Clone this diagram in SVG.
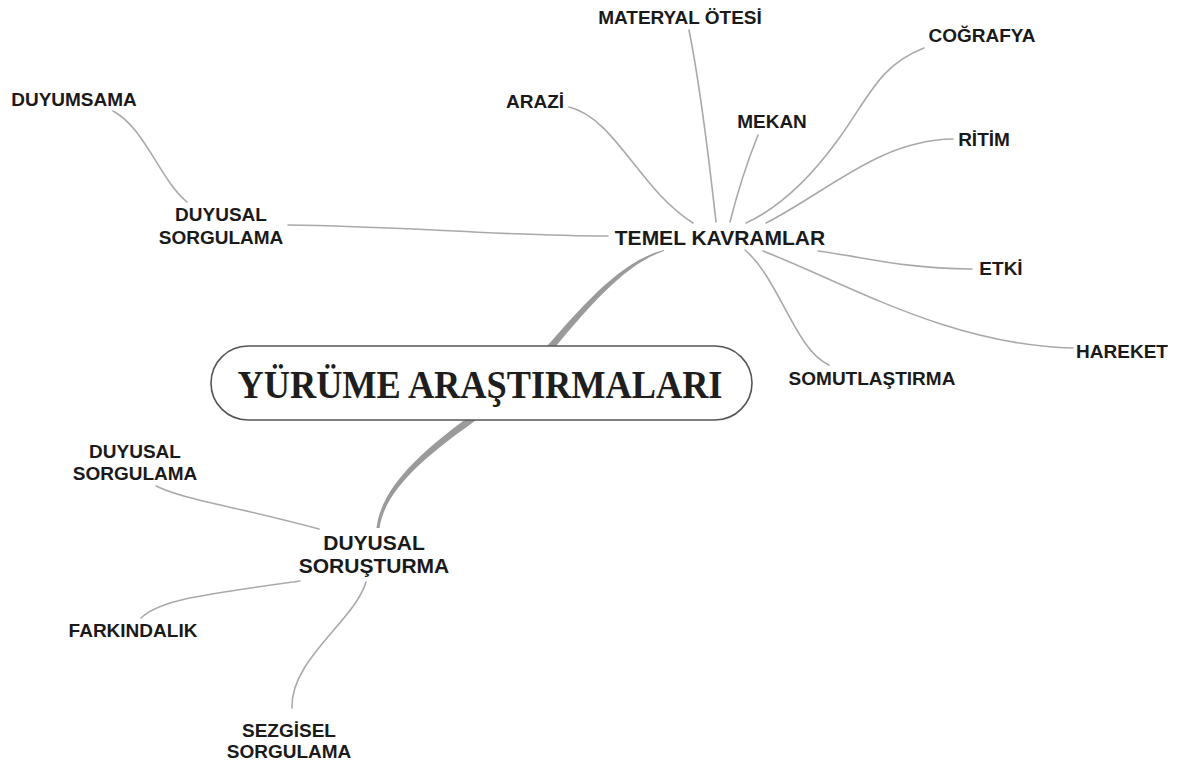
<svg xmlns="http://www.w3.org/2000/svg" width="1180" height="765" viewBox="0 0 1180 765">
<style>
.lbl{font-family:"Liberation Sans",Arial,sans-serif;font-weight:bold;font-size:19px;fill:#1a1a1a;text-anchor:middle}
.hub{font-size:21px}
.ln{fill:none;stroke:#a9a9a9;stroke-width:1.6;stroke-linecap:round}
.main{fill:#9a9a9a}
.title{font-family:"Liberation Serif","Times New Roman",serif;font-weight:bold;font-size:41px;fill:#1e1e1e;text-anchor:middle}
</style>
<rect width="1180" height="765" fill="#ffffff"/>
<g id="connectors">
<path class="main" d="M664,250 C624,260 588,298 537,358 L543,362 C592,302 626,264 664,251 Z"/>
<path class="main" d="M478,410 C418,453 381,489 376.5,528 L379.5,528 C385,491 422,458 482,416 Z"/>
<path class="ln" d="M288,225 C400,226 500,236 608,236"/>
<path class="ln" d="M113,111 C145,128 160,180 187,202"/>
<path class="ln" d="M569,107 C615,118 640,190 693,223"/>
<path class="ln" d="M689,30 C697,70 708,150 716,222"/>
<path class="ln" d="M758,135 C748,160 738,190 730,222"/>
<path class="ln" d="M924,48 C880,65 870,95 840,137 C815,172 785,205 746,223"/>
<path class="ln" d="M953,139 C880,140 830,190 766,223"/>
<path class="ln" d="M818,251 C870,258 900,268 972,269"/>
<path class="ln" d="M763,251 C850,285 950,345 1073,348"/>
<path class="ln" d="M745,250 C780,280 795,350 829,365"/>
<path class="ln" d="M156,486 C185,500 230,505 319,529"/>
<path class="ln" d="M141,618 C160,600 200,595 300,581"/>
<path class="ln" d="M292,708 C290,660 355,620 366,582"/>
</g>
<g id="root">
<rect x="211" y="346" width="541" height="74" rx="37" ry="37" fill="#ffffff" stroke="#555" stroke-width="1.6"/>
<text class="title" x="480" y="398" textLength="485" lengthAdjust="spacingAndGlyphs">YÜRÜME ARAŞTIRMALARI</text>
</g>
<g id="temel"><text class="lbl hub" x="720" y="245">TEMEL KAVRAMLAR</text></g>
<g id="sorusturma"><text class="lbl hub" x="374" y="550">DUYUSAL</text><text class="lbl hub" x="374" y="573">SORUŞTURMA</text></g>
<g id="duyusal-sorgulama-1"><text class="lbl" x="221" y="221">DUYUSAL</text><text class="lbl" x="221" y="244">SORGULAMA</text></g>
<g id="duyumsama"><text class="lbl" x="74" y="106">DUYUMSAMA</text></g>
<g id="arazi"><text class="lbl" x="535" y="108">ARAZİ</text></g>
<g id="materyal"><text class="lbl" x="680" y="24">MATERYAL ÖTESİ</text></g>
<g id="mekan"><text class="lbl" x="772" y="128">MEKAN</text></g>
<g id="cografya"><text class="lbl" x="982" y="42">COĞRAFYA</text></g>
<g id="ritim"><text class="lbl" x="984" y="146">RİTİM</text></g>
<g id="etki"><text class="lbl" x="1001" y="275">ETKİ</text></g>
<g id="hareket"><text class="lbl" x="1122" y="358">HAREKET</text></g>
<g id="somut"><text class="lbl" x="872" y="385">SOMUTLAŞTIRMA</text></g>
<g id="duyusal-sorgulama-2"><text class="lbl" x="135" y="458">DUYUSAL</text><text class="lbl" x="135" y="480">SORGULAMA</text></g>
<g id="farkindalik"><text class="lbl" x="133" y="637">FARKINDALIK</text></g>
<g id="sezgisel"><text class="lbl" x="289" y="737">SEZGİSEL</text><text class="lbl" x="289" y="758">SORGULAMA</text></g>
</svg>
